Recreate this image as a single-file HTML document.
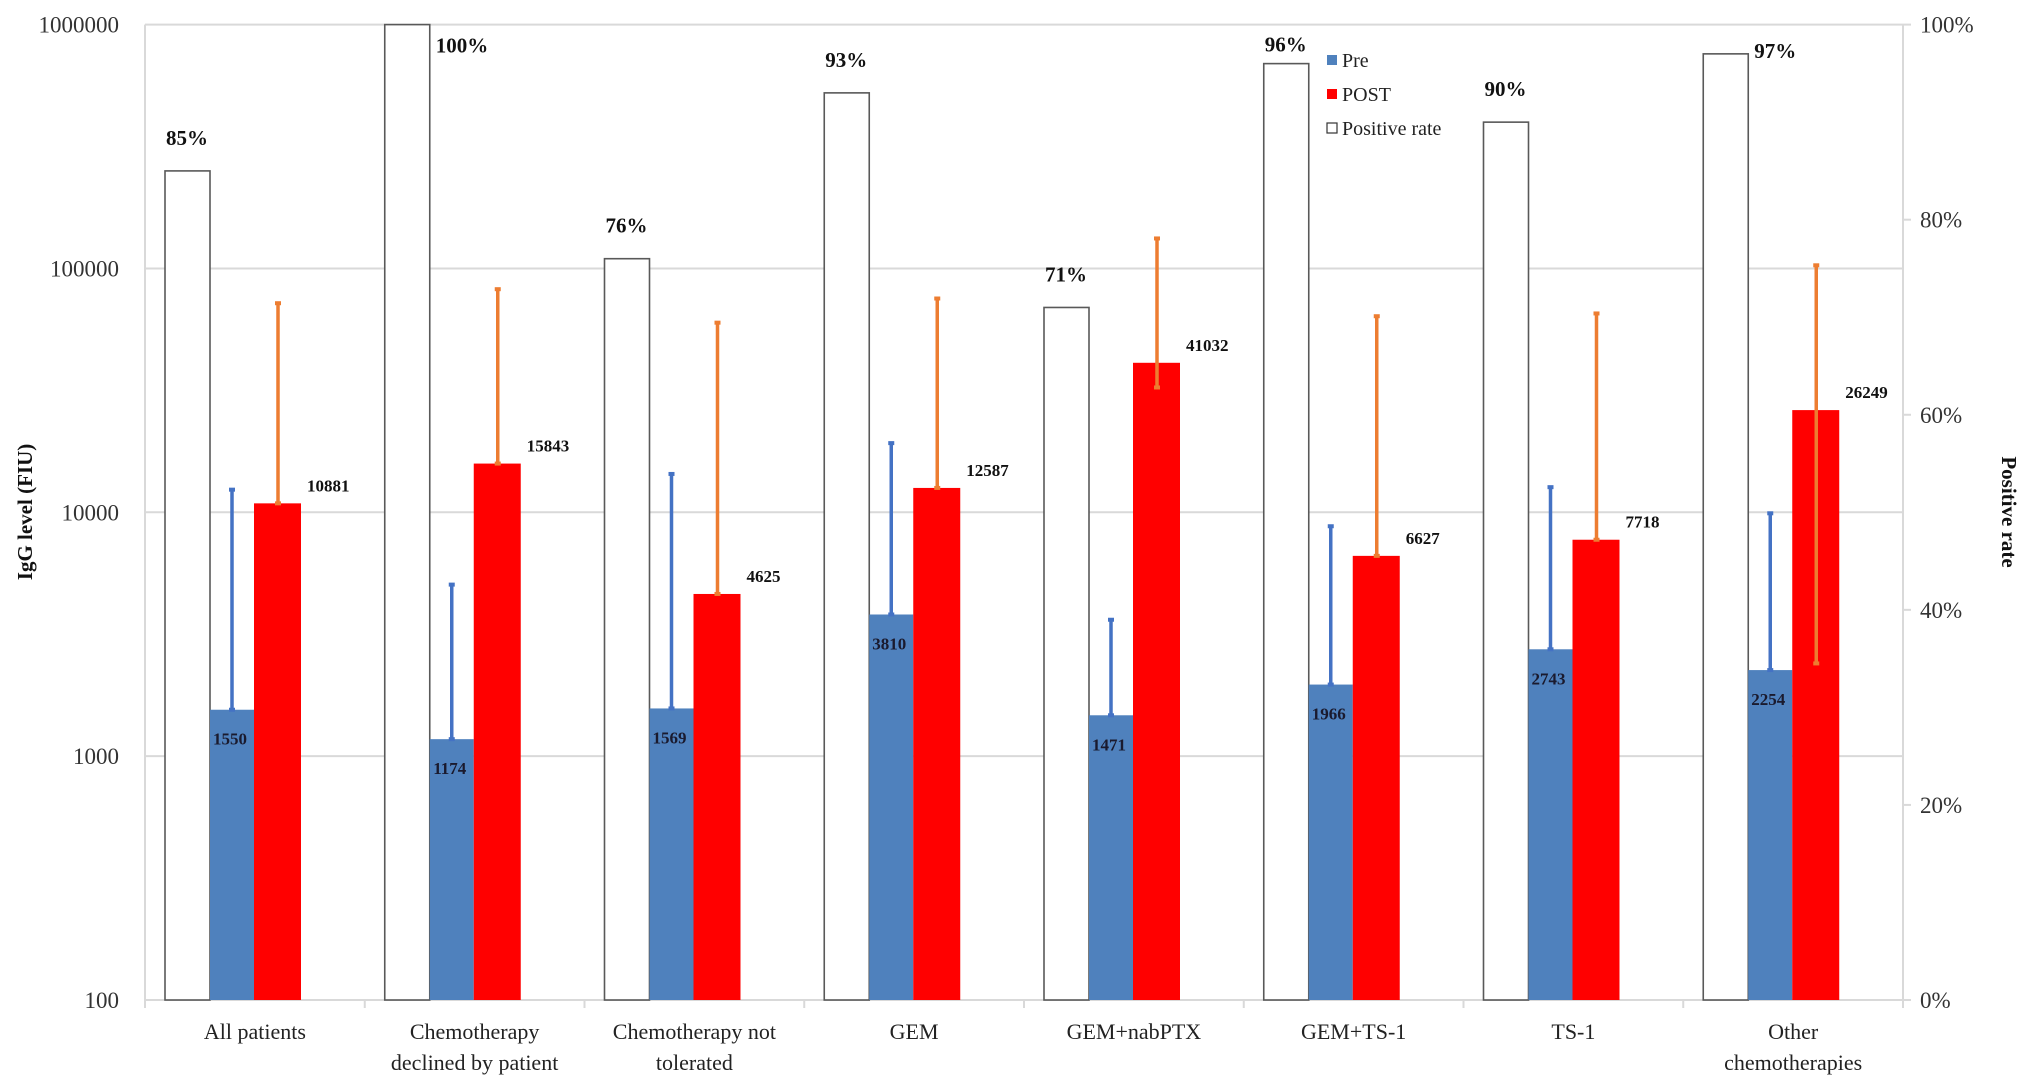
<!DOCTYPE html>
<html><head><meta charset="utf-8"><style>
html,body{margin:0;padding:0;background:#fff;}
svg{display:block;font-family:"Liberation Serif",serif;}
</style></head><body>
<svg id="chart" width="2031" height="1091" viewBox="0 0 2031 1091" xmlns="http://www.w3.org/2000/svg"></svg>
<script>
const categories = [["All patients"],["Chemotherapy","declined by patient"],["Chemotherapy not","tolerated"],["GEM"],["GEM+nabPTX"],["GEM+TS-1"],["TS-1"],["Other","chemotherapies"]];
const preValues = [1550,1174,1569,3810,1471,1966,2743,2254];
const postValues = [10881,15843,4625,12587,41032,6627,7718,26249];
const preUpper = [12500,5100,14500,19400,3660,8850,12800,10000];
const postUpper = [72700,83000,60500,76000,134000,64300,66000,104000];
const postLower = [10881,15843,4625,12587,32500,6627,7718,2400];
const positiveRate = [85,100,76,93,71,96,90,97];
const leftTicks = [100,1000,10000,100000,1000000];
const rightTicks = [0,20,40,60,80,100];

const L=145, R=1903, T=24.6, B=1000;
const svg=document.getElementById('chart');
const NS='http://www.w3.org/2000/svg';
function yLog(v){return B-(Math.log10(v)-2)/4*(B-T);}
function yPct(p){return B-p/100*(B-T);}
const catW=(R-L)/categories.length;
function xCat(i){return L+i*catW;}
function el(tag,attrs,parent){const e=document.createElementNS(NS,tag);for(const k in attrs)e.setAttribute(k,attrs[k]);(parent||svg).appendChild(e);return e;}
function txt(s,attrs){const e=el('text',attrs);e.textContent=s;return e;}

leftTicks.forEach((t,i)=>{
  const y=yLog(t);
  const g=el('line',{x1:L,x2:R,y1:y,y2:y,stroke:'#d9d9d9','stroke-width':2});
  
  
  const lb=txt(String(t),{x:119,y:y+8,'text-anchor':'end','font-size':23,fill:'#333'});
  
  
});
rightTicks.forEach(p=>{
  const y=yPct(p);
  el('line',{x1:R,x2:R+8,y1:y,y2:y,stroke:'#d9d9d9','stroke-width':2});
  const lb=txt(p+'%',{x:1920,y:y+8,'font-size':23,fill:'#333'});
  
  
});
const la=el('line',{x1:L,x2:L,y1:T,y2:B+8,stroke:'#d9d9d9','stroke-width':2});


const ra=el('line',{x1:R,x2:R,y1:T,y2:B,stroke:'#d9d9d9','stroke-width':2});


const xa=el('line',{x1:L,x2:R,y1:B,y2:B,stroke:'#d9d9d9','stroke-width':2});


for(let i=0;i<=categories.length;i++){el('line',{x1:xCat(i),x2:xCat(i),y1:B,y2:B+8,stroke:'#d9d9d9','stroke-width':2});}

categories.forEach((c,i)=>{
  const x0=xCat(i);
  const wx=x0+20, wy=yPct(positiveRate[i]);
  const wb=el('rect',{x:wx,y:wy,width:45,height:B-wy,fill:'#fff',stroke:'#595959','stroke-width':1.6});
  
  
  let pl;
  if(positiveRate[i]>=97) pl=txt(positiveRate[i]+'%',{x:wx+51,y:Math.max(wy+4,T+28),'font-size':21,'font-weight':'bold',fill:'#111'});
  else pl=txt(positiveRate[i]+'%',{x:wx+22,y:Math.max(wy-26,T+27),'font-size':21,'font-weight':'bold','text-anchor':'middle',fill:'#111'});
  
  
  const bx=x0+65, by=yLog(preValues[i]);
  const pb=el('rect',{x:bx,y:by,width:44,height:B-by,fill:'#4f81bd'});
  
  
  const pe=el('line',{x1:bx+22,x2:bx+22,y1:by,y2:yLog(preUpper[i]),stroke:'#4472c4','stroke-width':3.5});
  
  
  el('rect',{x:bx+19,y:yLog(preUpper[i])-1,width:6,height:4,fill:'#4472c4'});
  el('rect',{x:bx+19,y:by-2,width:6,height:4,fill:'#4472c4'});
  const pv=txt(String(preValues[i]),{x:bx+20,y:by+35,'font-size':17,'font-weight':'bold','text-anchor':'middle',fill:'#1a1a2e'});
  
  
  const rx=x0+109, ry=yLog(postValues[i]);
  const rb=el('rect',{x:rx,y:ry,width:47,height:B-ry,fill:'#ff0000'});
  
  
  const oe=el('line',{x1:rx+24,x2:rx+24,y1:yLog(postLower[i]),y2:yLog(postUpper[i]),stroke:'#ed7d31','stroke-width':3.5});
  
  
  el('rect',{x:rx+21,y:yLog(postUpper[i])-1,width:6,height:4,fill:'#ed7d31'});
  el('rect',{x:rx+21,y:yLog(postLower[i])-2,width:6,height:4,fill:'#ed7d31'});
  const rv=txt(String(postValues[i]),{x:rx+53,y:ry-12,'font-size':17,'font-weight':'bold',fill:'#111'});
  
  
  c.forEach((line,j)=>{
    const cl=txt(line,{x:x0+catW/2,y:1039+j*31,'font-size':22,'text-anchor':'middle',fill:'#222'});
    
    
  });
});

const yt=txt('IgG level (FIU)',{x:0,y:0,'font-size':21,'font-weight':'bold','text-anchor':'middle',fill:'#111',transform:'translate(32,512) rotate(-90)'});


const y2t=txt('Positive rate',{x:0,y:0,'font-size':21,'font-weight':'bold','text-anchor':'middle',fill:'#111',transform:'translate(2002,512) rotate(90)'});



const legend=el('g',{});


const leg=[['Pre','#4f81bd',null],['POST','#ff0000',null],['Positive rate','#fff','#333']];
leg.forEach((l,i)=>{
  const y=62+i*34;
  const sw=el('rect',{x:1327,y:y-7,width:10,height:10,fill:l[1],stroke:l[2]||'none','stroke-width':1.2},legend);
  
  
  const t=el('text',{x:1342,y:y+5,'font-size':20,fill:'#222'},legend);
  t.textContent=l[0];
  
  
});
</script>
</body></html>
